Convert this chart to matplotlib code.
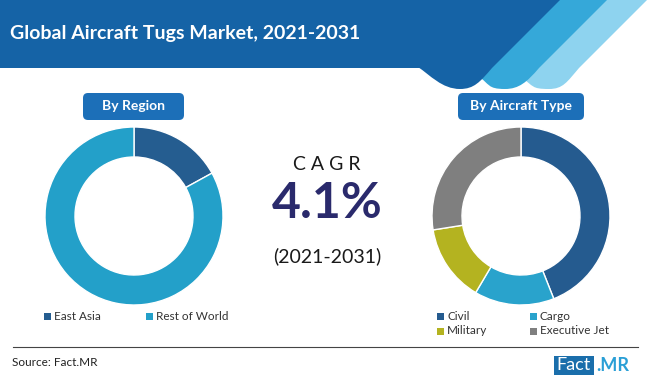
import matplotlib
matplotlib.use('Agg')
import matplotlib.pyplot as plt
from matplotlib.patches import FancyBboxPatch, Rectangle, PathPatch
from matplotlib.path import Path

# ── Data ──────────────────────────────────────────────────────────────────
region_labels = ['East Asia', 'Rest of World']
region_shares = [17, 83]
region_colors = ['#255d90', '#23a0c9']

type_labels = ['Civil', 'Cargo', 'Military', 'Executive Jet']
type_shares = [44, 14.5, 14, 27.5]
type_colors = ['#255b8f', '#29a3cc', '#b4b320', '#7f7f7f']

cagr_value = '4.1%'
cagr_period = '(2021-2031)'

C_BAND = '#1563a6'
C_MID = '#35a8d9'
C_LIGHT = '#8ed3ef'
C_BOX = '#1c6fb8'
C_NAVY = '#2a2a6c'
FONT = 'Lato'

W, H = 650, 381
fig = plt.figure(figsize=(W / 100, H / 100), dpi=100)

# background canvas in pixel coordinates (y down)
bg = fig.add_axes([0, 0, 1, 1])
bg.set_xlim(0, W)
bg.set_ylim(H, 0)
bg.axis('off')


def stripe(xr0, xb, left_end, top_left, color):
    # slanted band with a rounded bottom
    verts = [(top_left, -5), (xr0 + 5, -5), (xr0 - 68, 68),
             (xr0 - 80, 82), (xb + 14, 89), (xb, 89),
             (xb - 18, 89), (left_end[0] + 12, left_end[1] + 8), left_end,
             (top_left, -5)]
    codes = [Path.MOVETO, Path.LINETO, Path.LINETO,
             Path.CURVE4, Path.CURVE4, Path.CURVE4,
             Path.CURVE4, Path.CURVE4, Path.CURVE4,
             Path.CLOSEPOLY]
    bg.add_patch(PathPatch(Path(verts, codes), fc=color, ec='none', zorder=1))


# header band + stripes
stripe(647, 549, (522, 78), 600, C_LIGHT)
stripe(607, 505, (478, 76), 555, C_MID)
stripe(560, 460, (418, 67), 418, C_BAND)
bg.add_patch(Rectangle((0, 0), 440, 68, fc=C_BAND, ec='none', zorder=1))

bg.text(10, 33, 'Global Aircraft Tugs Market, 2021-2031', color='white',
        fontsize=14, fontweight='bold', family=FONT, va='center', ha='left', zorder=3)

# section labels
for (x0, x1, txt) in [(83, 184, 'By Region'), (458, 584, 'By Aircraft Type')]:
    bg.add_patch(FancyBboxPatch((x0, 93), x1 - x0, 27,
                                boxstyle='round,pad=0,rounding_size=5',
                                fc=C_BOX, ec='none', zorder=2))
    bg.text((x0 + x1) / 2, 106.5, txt, color='white', fontsize=10,
            fontweight='bold', family=FONT, ha='center', va='center', zorder=3)

# CAGR block
bg.text(327, 165, 'C A G R', color='#1a1a1a', fontsize=14, family=FONT,
        ha='center', va='center')
bg.text(327, 203, cagr_value, color=C_NAVY, fontsize=36, fontweight='bold',
        family=FONT, ha='center', va='center')
bg.text(327, 256, cagr_period, color='#1a1a1a', fontsize=14, family=FONT,
        ha='center', va='center')

# footer
bg.plot([13, 638], [347, 347], color='#444444', lw=0.8)
bg.text(12, 363, 'Source: Fact.MR', color='#222222', fontsize=8.5, family=FONT,
        ha='left', va='center')
bg.add_patch(Rectangle((554, 356), 40, 19, fc='#1a6eab', ec='none'))
bg.text(574, 365.5, 'Fact', color='white', fontsize=13, family=FONT,
        ha='center', va='center')
bg.text(596, 365.5, '.MR', color='#2a9fd6', fontsize=13, fontweight='bold',
        family=FONT, ha='left', va='center')


# ── Donuts ────────────────────────────────────────────────────────────────
def donut(cx, cy, r, shares, colors):
    ax = fig.add_axes([(cx - r) / W, (H - cy - r) / H, 2 * r / W, 2 * r / H])
    ax.pie(shares, colors=colors, startangle=90, counterclock=False,
           radius=1, wedgeprops=dict(width=0.337, edgecolor='white', linewidth=1))
    ax.set_xlim(-1, 1)
    ax.set_ylim(-1, 1)
    ax.set_aspect('equal')
    ax.axis('off')
    return ax


donut(134, 216, 89, region_shares, region_colors)
donut(521, 216, 89, type_shares, type_colors)

# legends (square markers + text)
reg_pos = [(44, 316), (146, 316)]
for (x, y), lab, col in zip(reg_pos, region_labels, region_colors):
    bg.add_patch(Rectangle((x, y - 3.5), 7, 7, fc=col, ec='none'))
    bg.text(x + 10, y, lab, fontsize=8.5, family=FONT, color='#333333',
            ha='left', va='center')

type_pos = [(437, 316), (530, 316), (437, 331), (530, 331)]
for (x, y), lab, col in zip(type_pos, type_labels, type_colors):
    bg.add_patch(Rectangle((x, y - 3.5), 7, 7, fc=col, ec='none'))
    bg.text(x + 10, y, lab, fontsize=8.5, family=FONT, color='#333333',
            ha='left', va='center')

fig.savefig('out.png', dpi=100)
